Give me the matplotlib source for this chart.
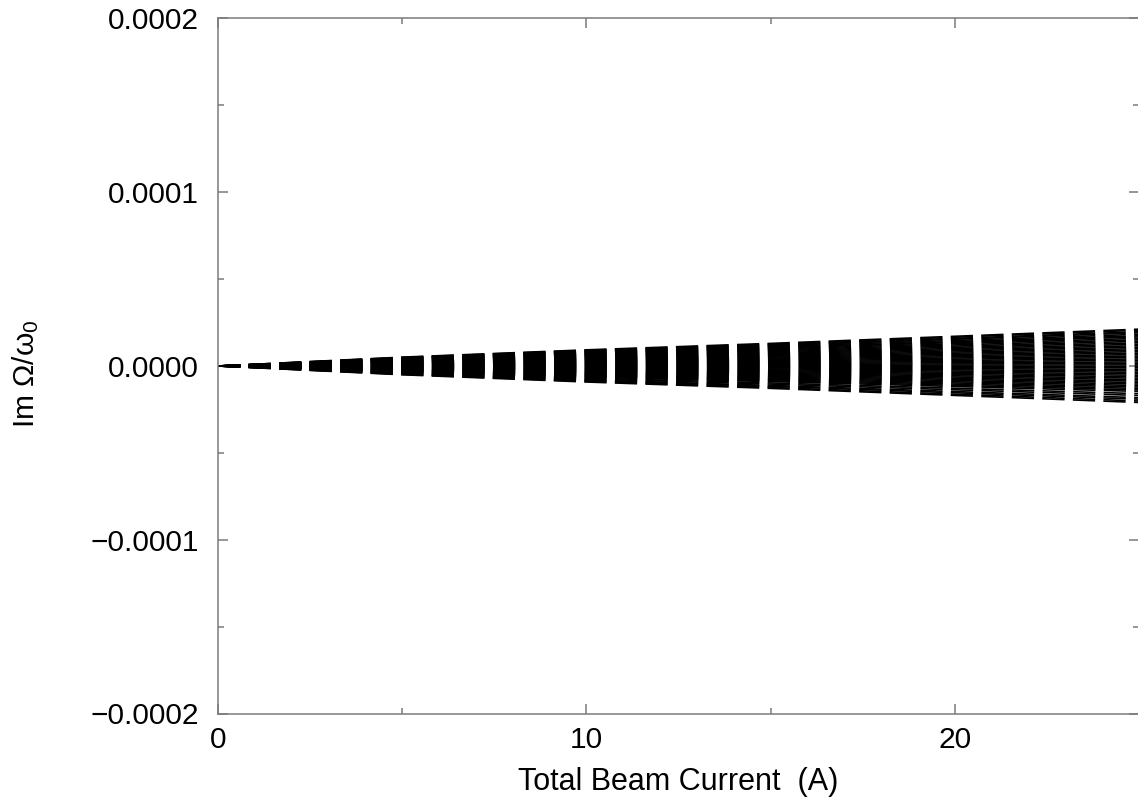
import matplotlib
matplotlib.use("Agg")
import matplotlib.pyplot as plt
from matplotlib.ticker import FixedLocator, FuncFormatter
import numpy as np

plt.rcParams['font.family'] = ['Liberation Sans', 'DejaVu Sans']
plt.rcParams['mathtext.fontset'] = 'custom'
plt.rcParams['mathtext.rm'] = 'Liberation Sans'
plt.rcParams['mathtext.it'] = 'Liberation Sans'
plt.rcParams['lines.scale_dashes'] = False

# Total beam current (A) and the envelope of the growth rates (units of 1e-5)
current = [0.0, 5.0, 10.0, 15.0, 20.0, 25.0]
envelope = [0.0, 0.51, 0.93, 1.30, 1.71, 2.12]

# Relative growth rate of each coupled-bunch mode (fraction of the envelope)
mode_weights = [1.00, 0.97, 0.93, 0.90, 0.86, 0.82, 0.79, 0.75, 0.71, 0.67,
                0.63, 0.59, 0.55, 0.51, 0.47, 0.43, 0.39, 0.35, 0.31, 0.27,
                0.23, 0.19, 0.15, 0.11, 0.07, 0.03, -0.01, -0.05, -0.09, -0.13,
                -0.17, -0.21, -0.25, -0.29, -0.33, -0.37, -0.41, -0.45, -0.49,
                -0.53, -0.57, -0.61, -0.65, -0.69, -0.75, -0.80, -0.86, -0.90,
                -0.95, -0.99]

x_major = [0, 10, 20]
x_minor = [5, 15, 25]
y_major = [-0.0002, -0.0001, 0.0, 0.0001, 0.0002]
y_minor = [-0.00015, -0.00005, 0.00005, 0.00015]

fig = plt.figure(figsize=(11.38, 8.02), dpi=100)
ax = fig.add_axes([218 / 1138, (802 - 713.5) / 802, (1139 - 218) / 1138, (713.5 - 18.5) / 802])

env = np.array(envelope) * 1e-5
for w in mode_weights:
    line, = ax.plot(current, w * env, color='black', lw=1.2)
    line.set_dashes((16.0, 6.0))
    line.set_dash_capstyle('butt')

ax.set_xlim(0, 25)
ax.set_ylim(-0.0002, 0.0002)

spine_color = '#7a7a7a'
for s in ax.spines.values():
    s.set_color(spine_color)
    s.set_linewidth(1.1)

ax.xaxis.set_major_locator(FixedLocator(x_major))
ax.xaxis.set_minor_locator(FixedLocator(x_minor))
ax.yaxis.set_major_locator(FixedLocator(y_major))
ax.yaxis.set_minor_locator(FixedLocator(y_minor))
ax.xaxis.set_major_formatter(FuncFormatter(lambda v, p: f"{v:g}"))
ax.yaxis.set_major_formatter(FuncFormatter(
    lambda v, p: f"{v:.4f}".replace('-', '\u2212') if abs(v) > 1e-12 else "0.0000"))

ax.tick_params(axis='both', which='both', direction='in', color=spine_color,
               width=1.1, top=True, right=True)
ax.tick_params(axis='both', which='major', length=7.5, labelsize=21.5)
ax.tick_params(axis='both', which='minor', length=4)
ax.tick_params(axis='x', which='major', pad=9)
ax.tick_params(axis='y', which='major', pad=14)

ax.set_xlabel('Total Beam Current  (A)', fontsize=22)
ax.xaxis.set_label_coords(0.5, (713.5 - 790) / 695)
ax.xaxis.label.set_va('baseline')
ax.set_ylabel('Im Ω/ω$_0$', fontsize=21.5)
ax.yaxis.set_label_coords((26 - 218) / (1139 - 218), (713.5 - 374) / 695)
ax.yaxis.label.set_va('center')

fig.savefig('out.png', dpi=100)
